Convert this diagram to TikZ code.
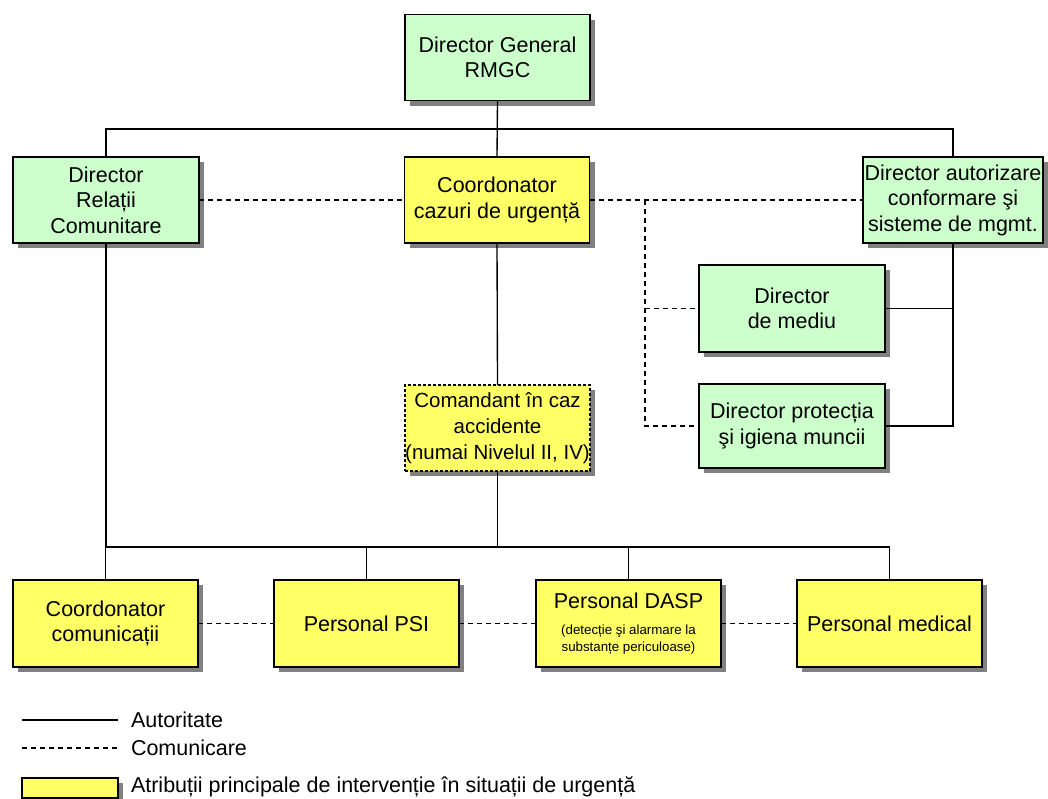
\documentclass[tikz,border=0pt]{standalone}
\usepackage{fontspec}
\setmainfont{Liberation Sans}
\usetikzlibrary{shadows}
\definecolor{boxgreen}{RGB}{204,255,204}
\definecolor{boxyellow}{RGB}{255,255,102}
\begin{document}
\begin{tikzpicture}[x=1pt,y=-1pt,
  every node/.style={inner sep=0pt,outer sep=0pt},
  orgbox/.style={draw=black,line width=1.2pt,minimum width=185pt,minimum height=86pt,align=center,
    font=\fontsize{21.5}{25.5}\selectfont,
    drop shadow={shadow xshift=5pt,shadow yshift=-5pt,fill=black!50,opacity=1}},
  gbox/.style={orgbox,fill=boxgreen},
  ybox/.style={orgbox,fill=boxyellow},
  auth/.style={line width=1.35pt},
  comm/.style={line width=1.35pt,dash pattern=on 5pt off 4pt},
  legtext/.style={anchor=west,font=\fontsize{21.5}{25.5}\selectfont}
]
\useasboundingbox (0,0) rectangle (1048,798);

% boxes
\node[gbox] (dg) at (497.5,57.5) {Director General\\RMGC};
\node[gbox,minimum width=186pt] (rel) at (106,200) {Director\\Relații\\Comunitare};
\node[ybox] (coord) at (497,200) {Coordonator\\cazuri de urgență};
\node[gbox,minimum width=180pt] (aut) at (953,200) {Director autorizare\\conformare şi\\sisteme de mgmt.};
\node[gbox,minimum width=186pt,minimum height=87pt] (mediu) at (792,308.5) {Director\\de mediu};
\node[gbox,minimum width=186pt,minimum height=84pt] (prot) at (792,426) {Director protecția\\şi igiena muncii};
\node[ybox,dashed,dash pattern=on 3pt off 2pt,font=\fontsize{20.5}{26}\selectfont] (cmd) at (497.5,428) {Comandant în caz\\accidente\\(numai Nivelul II, IV)};

\node[ybox,minimum height=87pt] (comm1) at (105.5,623.5) {Coordonator\\comunicații};
\node[ybox,minimum height=87pt] (psi) at (366.5,623.5) {Personal PSI};
\node[ybox,minimum height=87pt] (dasp) at (628.5,623.5) {Personal DASP\\[1pt]{\fontsize{13.3}{17}\selectfont (detecție şi alarmare la}\\[-8.5pt]{\fontsize{13.3}{17}\selectfont substanțe periculoase)}};
\node[ybox,minimum height=87pt] (med) at (889.5,623.5) {Personal medical};

% bus coordinates
\coordinate (bus1) at (0,129);
\coordinate (bus2) at (0,547);
\coordinate (dv) at (645,0);

% authority lines
\draw[auth] (dg.south) -- (coord.north);
\draw[auth] (rel.north) -- (rel.north |- bus1) -- (aut.north |- bus1) -- (aut.north);
\draw[auth] (coord.south) -- (cmd.north);
\draw[auth] (cmd.south) -- (cmd.south |- bus2);
\draw[auth] (rel.south) -- (rel.south |- bus2) -- (med.north |- bus2) -- (med.north);
\draw[auth] (comm1.north |- bus2) -- (comm1.north);
\draw[auth] (psi.north |- bus2) -- (psi.north);
\draw[auth] (dasp.north |- bus2) -- (dasp.north);
\draw[auth] (aut.south) |- (prot.east);
\draw[auth] (aut.south |- mediu.east) -- (mediu.east);

% communication lines
\draw[comm] (rel.east) -- (coord.west);
\draw[comm] (coord.east) -- (aut.west);
\draw[comm] (coord.east -| dv) |- (prot.west);
\draw[comm] (dv |- mediu.west) -- (mediu.west);
\draw[comm] (comm1.east) -- (psi.west);
\draw[comm] (psi.east) -- (dasp.west);
\draw[comm] (dasp.east) -- (med.west);

% legend
\coordinate (la1) at (22,720);
\coordinate (lb1) at (118,720);
\coordinate (la2) at (22,748);
\coordinate (lb2) at (118,748);
\draw[auth] (la1) -- (lb1);
\draw[comm] (la2) -- (lb2);
\node[legtext] (lt1) at (131,720) {Autoritate};
\node[legtext] (lt2) at (131,748) {Comunicare};
\node[draw=black,line width=1.2pt,fill=boxyellow,minimum width=96pt,minimum height=20pt,
  drop shadow={shadow xshift=5pt,shadow yshift=-5pt,fill=black!50,opacity=1}] (lbox) at (70,788) {};
\node[legtext] (lt3) at (131,787) {Atribuții principale de intervenție în situații de urgență};
\end{tikzpicture}
\end{document}
